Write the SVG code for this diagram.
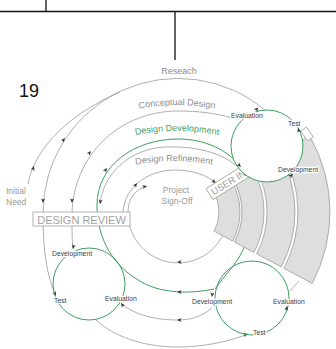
<svg xmlns="http://www.w3.org/2000/svg" width="336" height="349" viewBox="0 0 336 349">
<style>
  .ln{fill:none;stroke:#9b9b9b;stroke-width:0.8}
  .gr{fill:none;stroke:#3f9f62;stroke-width:1}
  .ah{fill:#333}
  .lbl{font-family:"Liberation Sans",Arial,sans-serif;font-size:6.8px;fill:#404040;stroke:#fff;stroke-width:2.4;paint-order:stroke;stroke-linejoin:round}
  .ph{font-family:"Liberation Sans",Arial,sans-serif;font-size:9px;fill:#8c8c8c}
  .band{fill:#dedede;stroke:#8f8f8f;stroke-width:0.7}
  .box{fill:#fff;stroke:#a0a0a0;stroke-width:0.8}
</style>
<defs>
  <path id="ah" d="M0,0 L-4.5,-2 L-3.4,0 L-4.5,2 Z"/>
  <path id="tp-cd" d="M108.6,117.1 A200,200 0 0 1 245.4,117.1"/>
  <path id="tp-dd" d="M109,141.8 A220,220 0 0 1 245,141.8"/>
  <path id="tp-dr" d="M112.2,170.8 A200,200 0 0 1 235.8,170.8"/>
</defs>

<!-- page frame rules -->
<g id="frame" fill="none" stroke="#111" stroke-width="1.3">
  <path d="M0,11.5 H336 M46,0 V11.5 M175,11.5 V60"/>
</g>

<!-- flow lines between the phases -->
<g id="connectors">
  <!-- Initial Need feeding the research loop -->
  <path class="ln" d="M28,184 C33,155 60,118 120,92"/>
  <!-- Reseach ring -->
  <path class="ln" d="M266,111 A135,135 0 0 0 43,214 C43,250 47,278 56,295"/>
  <!-- Conceptual Design ring -->
  <path class="ln" d="M232,118 C215,113 198,111 178,111 C120,111 73,155 72,214 C72,232 72,240 73,249"/>
  <!-- return from the first loop back to review -->
  <path class="ln" d="M239,168 C222,152 195,146 165,147 C128,149 103,175 100,204"/>
  <!-- Design Refinement ring -->
  <path class="ln" d="M123,212 C125,185 150,170 175,170 C192,170 207,175 216,183"/>
  <!-- inner ring towards sign-off -->
  <path class="ln" d="M227,203 A50,50 0 1 1 128,212 C128,198 136,189 147,186"/>
  <!-- bottom returns -->
  <path class="ln" d="M212,308 C200,318 188,320 177,320 C152,320 131,313 121,303"/>
  <path class="ln" d="M96,320 C118,340 150,347 178,347 C205,347 230,341 248,334"/>
  <path class="ln" d="M290,291 L299,281"/>
  <!-- Design Development ring -->
  <path class="gr" d="M214,289 C195,293 160,296 135,278 C110,262 97,235 97,205 C97,165 135,139 178,139 C205,139 228,150 241,167"/>
  <path class="gr" d="M256,181 C253,212 250,235 243,250 C236,265 224,276 215,289"/>

  <g class="ah">
    <use href="#ah" transform="translate(34,166) rotate(-72)"/>
    <use href="#ah" transform="translate(65,138) rotate(-50)"/>
    <use href="#ah" transform="translate(43,203) rotate(90)"/>
    <use href="#ah" transform="translate(91,151) rotate(-50)"/>
    <use href="#ah" transform="translate(72,203) rotate(90)"/>
    <use href="#ah" transform="translate(56,296) rotate(65)"/>
    <use href="#ah" transform="translate(73,249) rotate(100)"/>
    <use href="#ah" transform="translate(100,204) rotate(100)"/>
    <use href="#ah" transform="translate(137,183) rotate(-55)"/>
    <use href="#ah" transform="translate(216,183) rotate(35)"/>
    <use href="#ah" transform="translate(177,262) rotate(180)"/>
    <use href="#ah" transform="translate(147,186) rotate(-15)"/>
    <use href="#ah" transform="translate(177,320) rotate(180)"/>
    <use href="#ah" transform="translate(121,303) rotate(-125)"/>
    <use href="#ah" transform="translate(248,334) rotate(-12)"/>
    <use href="#ah" transform="translate(107,168) rotate(-55)"/>
    <use href="#ah" transform="translate(177,292) rotate(180)"/>
  </g>
</g>

<!-- user input bands -->
<g id="user-input">
  <path class="band" d="M213.5,191.5 L231.7,181 A62,62 0 0 1 232.7,241.1 L214.2,231.2 A41,41 0 0 0 213.5,191.5 Z"/>
  <path class="band" d="M233.4,180 L252.5,169 A86,86 0 0 1 253.9,252.4 L234.5,242 A64,64 0 0 0 233.4,180 Z"/>
  <path class="band" d="M255.1,167.5 L279.3,153.5 A117,117 0 0 1 281.3,266.9 L256.6,253.8 A89,89 0 0 0 255.1,167.5 Z"/>
  <path class="band" d="M281.9,152 L309.6,136 A152,152 0 0 1 312.2,283.4 L283.9,268.3 A120,120 0 0 0 281.9,152 Z"/>
  <g transform="translate(213,196) rotate(-32)">
    <rect class="box" x="-2" y="-10" width="50" height="13"/>
    <text x="1" y="0" font-family="Liberation Sans, Arial, sans-serif" font-size="9.5" fill="#9a9a9a">USER IN</text>
  </g>
  <rect class="box" x="-6" y="-3.5" width="12" height="7" transform="translate(307,134) rotate(55)"/>
</g>

<!-- loop after the research phase -->
<g id="cycle-right">
  <circle cx="267" cy="146" r="36" fill="#fff" stroke="#3f9f62" stroke-width="1"/>
  <g class="ah">
    <use href="#ah" transform="translate(241,167) rotate(45)"/>
    <use href="#ah" transform="translate(254,109) rotate(185)"/>
    <use href="#ah" transform="translate(298,128) rotate(-105)"/>
    <use href="#ah" transform="translate(293,174) rotate(-40)"/>
  </g>
  <text class="lbl" x="231" y="118">Evaluation</text>
  <text class="lbl" x="288" y="126">Test</text>
  <text class="lbl" x="278" y="172">Development</text>
</g>

<!-- loop at the lower left -->
<g id="cycle-left">
  <circle class="gr" cx="89" cy="284" r="36"/>
  <text class="lbl" x="52" y="256">Development</text>
  <text class="lbl" x="54" y="303">Test</text>
  <text class="lbl" x="105" y="301">Evaluation</text>
</g>

<!-- loop at the lower right -->
<g id="cycle-bottom-right">
  <circle class="gr" cx="252" cy="298" r="37"/>
  <g class="ah">
    <use href="#ah" transform="translate(212,297) rotate(95)"/>
    <use href="#ah" transform="translate(287,306) rotate(-80)"/>
  </g>
  <text class="lbl" x="192" y="304">Development</text>
  <text class="lbl" x="273" y="304">Evaluation</text>
  <text class="lbl" x="253" y="335">Test</text>
</g>

<g id="design-review">
  <rect class="box" x="33" y="212" width="97" height="14"/>
  <text x="81.5" y="223.5" text-anchor="middle" font-family="Liberation Sans, Arial, sans-serif" font-size="11" fill="#a3a3a3">DESIGN REVIEW</text>
</g>

<g id="initial-need" class="ph" font-size="8.5">
  <text x="6" y="194" style="font-size:8.5px;fill:#999">Initial</text>
  <text x="6" y="205" style="font-size:8.5px;fill:#999">Need</text>
</g>

<g id="project-sign-off">
  <text x="176" y="193" text-anchor="middle" class="ph" style="font-size:8.5px;fill:#999">Project</text>
  <text x="177" y="204" text-anchor="middle" class="ph" style="font-size:8.5px;fill:#999">Sign-Off</text>
</g>

<g id="phase-labels">
  <text class="ph" x="179" y="74" text-anchor="middle">Reseach</text>
  <text class="ph"><textPath href="#tp-cd" startOffset="50%" text-anchor="middle">Conceptual Design</textPath></text>
  <text class="ph" style="fill:#3f9f62"><textPath href="#tp-dd" startOffset="50%" text-anchor="middle">Design Development</textPath></text>
  <text class="ph"><textPath href="#tp-dr" startOffset="50%" text-anchor="middle">Design Refinement</textPath></text>
</g>

<text id="page-number" x="19" y="97" font-family="Liberation Sans, Arial, sans-serif" font-size="18" fill="#111">19</text>
</svg>
